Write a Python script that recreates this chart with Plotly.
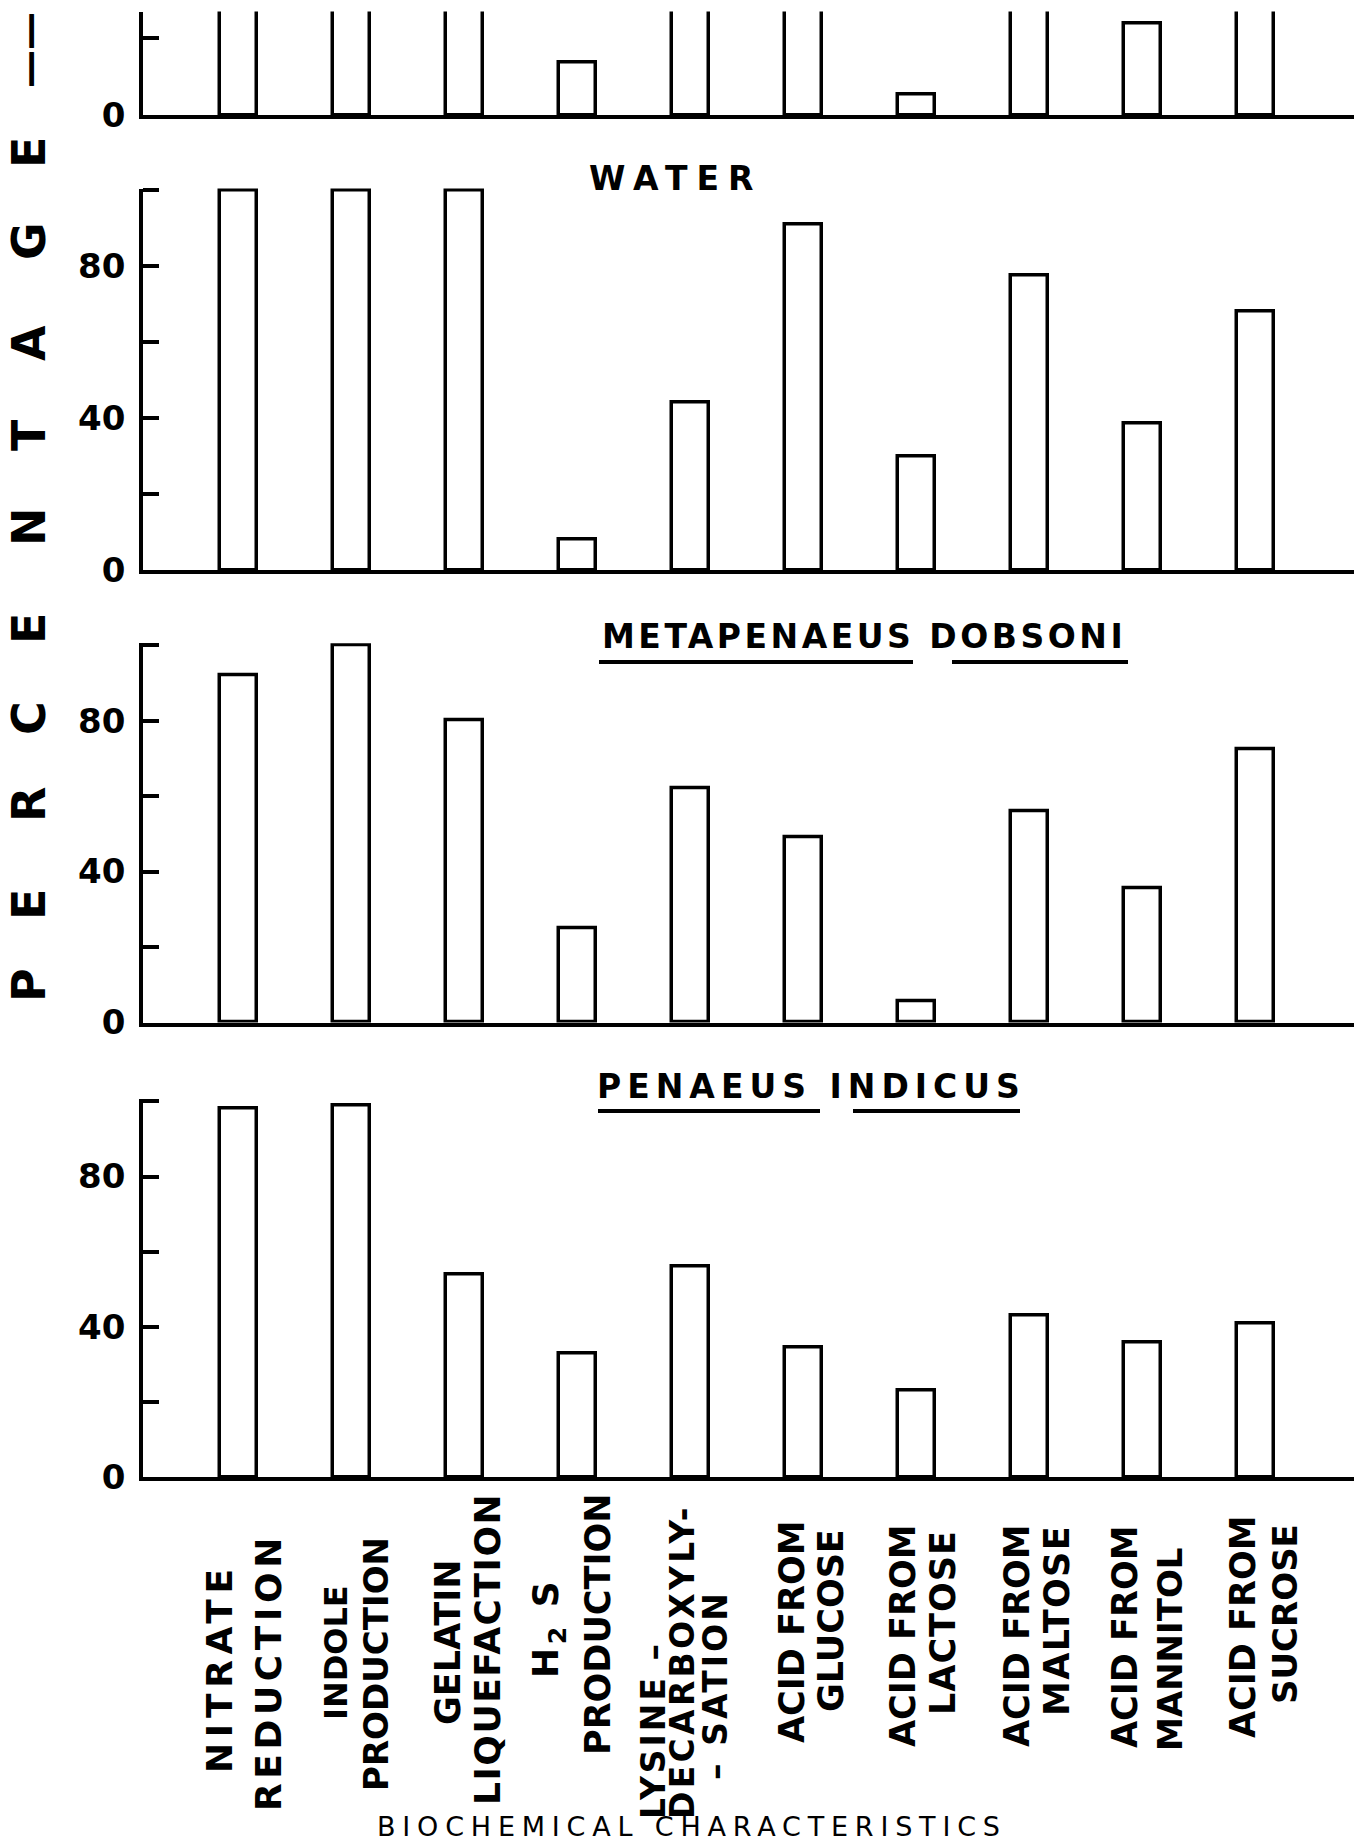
import plotly.graph_objects as go

# ---- data -------------------------------------------------------------
categories = [
    "Nitrate reduction", "Indole production", "Gelatin liquefaction",
    "H2S production", "Lysine decarboxylysation", "Acid from glucose",
    "Acid from lactose", "Acid from maltose", "Acid from mannitol",
    "Acid from sucrose",
]

# percentage of positive isolates per test
# (upper panel is cut off by the page edge; its tall bars run off the top)
upper_pct = [100, 100, 100, 13.6, 100, 100, 5.4, 100, 23.5, 100]
water_pct = [100, 100, 100, 8, 44, 91, 30, 77.5, 38.5, 68]
dobsoni_pct = [92, 100, 80, 25, 62, 49, 5.5, 56, 35.5, 72.5]
indicus_pct = [98, 99, 54, 33, 56, 34.5, 23, 43, 36, 41]

tick_labels = [
    "NITRATE<br>REDUCTION",
    "INDOLE<br>PRODUCTION",
    "GELATIN<br>LIQUEFACTION",
    "H<sub>2</sub> S<br>PRODUCTION",
    "LYSINE –<br>DECARBOXYLY-<br>– SATION",
    "ACID FROM<br>GLUCOSE",
    "ACID FROM<br>LACTOSE",
    "ACID FROM<br>MALTOSE",
    "ACID FROM<br>MANNITOL",
    "ACID FROM<br>SUCROSE",
]
y_ticks = [0, 20, 40, 60, 80, 100]
y_tick_text = ["0", "", "40", "", "80", ""]

# ---- page geometry (pixels) -------------------------------------------
W, H = 1361, 1843
ML, MR = 143, 7


def fx(px):
    return (px - ML) / (W - ML - MR)


def fy(py):
    return 1 - py / H


INK = "black"
FONT = "DejaVu Sans"

# bottom pixel, top pixel, top of value range for each stacked panel
panels = [
    (upper_pct, 115.2, 11.5, 26.7),
    (water_pct, 570.0, 188.5, 100.5),
    (dobsoni_pct, 1022.5, 643.3, 100.5),
    (indicus_pct, 1477.4, 1099.4, 100.5),
]

fig = go.Figure()
layout = {}
for i, (vals, bot, top, ymax) in enumerate(panels, start=1):
    xa = "x" if i == 1 else f"x{i}"
    ya = "y" if i == 1 else f"y{i}"
    fig.add_trace(go.Bar(
        x=categories, y=vals, xaxis=xa, yaxis=ya, width=0.327,
        marker=dict(color="white", line=dict(color=INK, width=3.5)),
        showlegend=False, hoverinfo="skip",
    ))
    xkey = "xaxis" if i == 1 else f"xaxis{i}"
    ykey = "yaxis" if i == 1 else f"yaxis{i}"
    layout[xkey] = dict(
        domain=[0, 1], anchor=ya, type="category", automargin=False,
        range=[-0.842, 9.87], showline=True, linewidth=3.5, linecolor=INK,
        showticklabels=False, ticks="", showgrid=False, zeroline=False,
    )
    layout[ykey] = dict(
        domain=[fy(bot), fy(top)], anchor=xa, range=[0, ymax],
        automargin=False,
        showline=True, linewidth=3.5, linecolor=INK,
        ticks="inside", ticklen=16, tickwidth=3.5, tickcolor=INK,
        tickvals=y_ticks, ticktext=y_tick_text, ticklabelstandoff=7,
        tickfont=dict(family=FONT, size=34, color=INK, weight="bold"),
        showgrid=False, zeroline=False,
    )

annotations = []
shapes = []

# panel headings
headings = [
    ("WATER", 675, 178, 9),
    ("METAPENAEUS DOBSONI", 864, 636, 3.5),
    ("PENAEUS INDICUS", 811, 1086, 6),
]
for text, cx, cy, sp in headings:
    annotations.append(dict(
        text=f"<span style='letter-spacing:{sp}px'>{text}</span>",
        xref="paper", yref="paper", x=fx(cx), y=fy(cy),
        xanchor="center", yanchor="middle", showarrow=False,
        font=dict(family=FONT, size=33, color=INK, weight="bold"),
    ))

# species names are underlined word by word
for x0, x1, yy in [(599, 913, 662), (952, 1128, 662),
                   (598, 820, 1111), (853, 1020, 1111)]:
    shapes.append(dict(
        type="line", xref="paper", yref="paper",
        x0=fx(x0), x1=fx(x1), y0=fy(yy), y1=fy(yy),
        line=dict(color=INK, width=4),
    ))

# rotated test names under the bottom panel: one entry per text line,
# (centre x, centre y, font size, letter spacing) in page pixels
label_lines = [
    [(219, 1668, 36, 5.7), (268, 1672, 36, 4.6)],
    [(336, 1653, 32, 0.0), (376, 1664, 34, 0.0)],
    [(448, 1642, 35, 0.0), (487, 1649, 36, 1.5)],
    [(548, 1628, 36, 3.5), (598, 1625, 35, 0.0)],
    [(653, 1730, 33, 3.0), (682, 1662, 33, 3.3), (715, 1685, 33, 3.1)],
    [(792, 1632, 35, 0.0), (831, 1621, 35, 0.0)],
    [(903, 1636, 35, 0.0), (943, 1623, 35, 1.0)],
    [(1017, 1636, 35, 0.0), (1057, 1621, 35, 1.4)],
    [(1125, 1637, 35, 0.0), (1170, 1650, 34, 0.0)],
    [(1243, 1627, 35, 0.0), (1285, 1614, 34, 0.0)],
]
for text, lines in zip(tick_labels, label_lines):
    for part, (cx, cy, fs, sp) in zip(text.split("<br>"), lines):
        annotations.append(dict(
            text=f"<span style='letter-spacing:{sp}px'>{part}</span>",
            xref="paper", yref="paper", x=fx(cx), y=fy(cy),
            xanchor="center", yanchor="middle", textangle=-90,
            showarrow=False,
            font=dict(family=FONT, size=fs, color=INK, weight="bold"),
        ))

# spaced-out vertical axis title
y_letters = [("P", 985, 46), ("E", 905, 46), ("R", 805, 46), ("C", 718, 46),
             ("E", 629, 46), ("N", 527, 46), ("T", 435, 46), ("A", 343, 46),
             ("G", 241, 46), ("E", 153, 46), ("——", 50, 38)]
for ch, cy, fs in y_letters:
    annotations.append(dict(
        text=ch, xref="paper", yref="paper", x=fx(29), y=fy(cy),
        xanchor="center", yanchor="middle", textangle=-90, showarrow=False,
        font=dict(family=FONT, size=fs, color=INK, weight="bold"),
    ))

annotations.append(dict(
    text="<span style='letter-spacing:6.8px'>BIOCHEMICAL CHARACTERISTICS</span>",
    xref="paper", yref="paper", x=fx(692), y=fy(1826),
    xanchor="center", yanchor="middle", showarrow=False,
    font=dict(family=FONT, size=27, color=INK),
))

fig.update_layout(
    template="none",
    width=W, height=H, autosize=False,
    margin=dict(l=ML, r=MR, t=0, b=0, pad=0, autoexpand=False),
    paper_bgcolor="white", plot_bgcolor="white", showlegend=False,
    bargap=0, annotations=annotations, shapes=shapes,
    **layout,
)

fig.write_html("out.html")
